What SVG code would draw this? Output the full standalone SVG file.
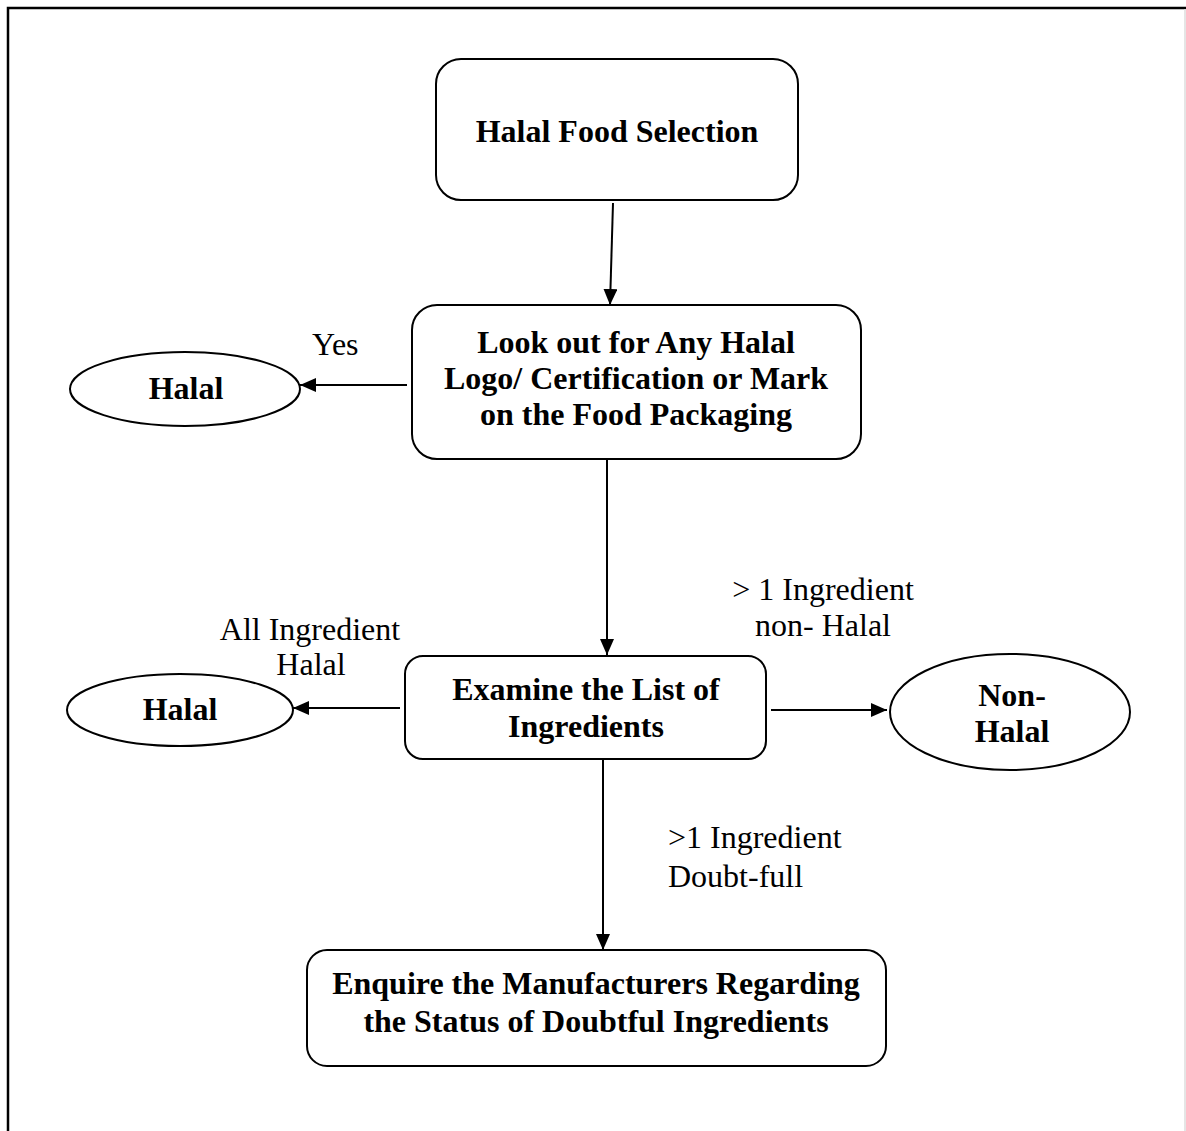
<svg xmlns="http://www.w3.org/2000/svg" width="1186" height="1131" viewBox="0 0 1186 1131">
<style>
.box{fill:#fff;stroke:#000;stroke-width:2}
.b{font-family:"Liberation Serif","Times New Roman",serif;font-weight:bold;font-size:32px;fill:#000;text-anchor:middle}
.n{font-family:"Liberation Serif","Times New Roman",serif;font-size:32px;fill:#000}
.c{stroke:#000;stroke-width:2;fill:none;marker-end:url(#ah)}
</style>
<defs>
<marker id="ah" viewBox="0 0 16 14" refX="16" refY="7" markerWidth="16" markerHeight="14" markerUnits="userSpaceOnUse" orient="auto">
<path d="M0,0 L16,7 L0,14 Z" fill="#000"/>
</marker>
</defs>
<rect width="1186" height="1131" fill="#fff"/>
<path d="M8,1131 V8 H1186" fill="none" stroke="#000" stroke-width="2.5"/>
<line x1="1185" y1="9" x2="1185" y2="1131" stroke="#ddd" stroke-width="1.5"/>
<g id="connectors">
<path class="c" d="M613,203 L610,305"/>
<path class="c" d="M407,385 L300,385"/>
<path class="c" d="M607,459 L607,655"/>
<path class="c" d="M400,708 L293,708"/>
<path class="c" d="M771,710 L887,710"/>
<path class="c" d="M603,760 L603,950"/>
<text class="n" x="312" y="355">Yes</text>
<text class="n" x="310" y="640" text-anchor="middle">All Ingredient</text>
<text class="n" x="311" y="675" text-anchor="middle">Halal</text>
<text class="n" x="823" y="600" text-anchor="middle">&gt; 1 Ingredient</text>
<text class="n" x="823" y="636" text-anchor="middle">non- Halal</text>
<text class="n" x="668" y="848">&gt;1 Ingredient</text>
<text class="n" x="668" y="887">Doubt-full</text>
</g>
<g id="start">
<rect class="box" x="436" y="59" width="362" height="141" rx="25"/>
<text class="b" x="617" y="142">Halal Food Selection</text>
</g>
<g id="lookout">
<rect class="box" x="412" y="305" width="449" height="154" rx="25"/>
<text class="b" x="636" y="353">Look out for Any Halal</text>
<text class="b" x="636" y="389">Logo/ Certification or Mark</text>
<text class="b" x="636" y="425">on the Food Packaging</text>
</g>
<g id="halal1">
<ellipse class="box" cx="185" cy="389" rx="115" ry="37"/>
<text class="b" x="186" y="399">Halal</text>
</g>
<g id="examine">
<rect class="box" x="405" y="656" width="361" height="103" rx="18"/>
<text class="b" x="586" y="700">Examine the List of</text>
<text class="b" x="586" y="737">Ingredients</text>
</g>
<g id="halal2">
<ellipse class="box" cx="180" cy="710" rx="113" ry="36"/>
<text class="b" x="180" y="720">Halal</text>
</g>
<g id="nonhalal">
<ellipse class="box" cx="1010" cy="712" rx="120" ry="58"/>
<text class="b" x="1012" y="706">Non-</text>
<text class="b" x="1012" y="742">Halal</text>
</g>
<g id="enquire">
<rect class="box" x="307" y="950" width="579" height="116" rx="20"/>
<text class="b" x="596" y="994">Enquire the Manufacturers Regarding</text>
<text class="b" x="596" y="1032">the Status of Doubtful Ingredients</text>
</g>
</svg>
